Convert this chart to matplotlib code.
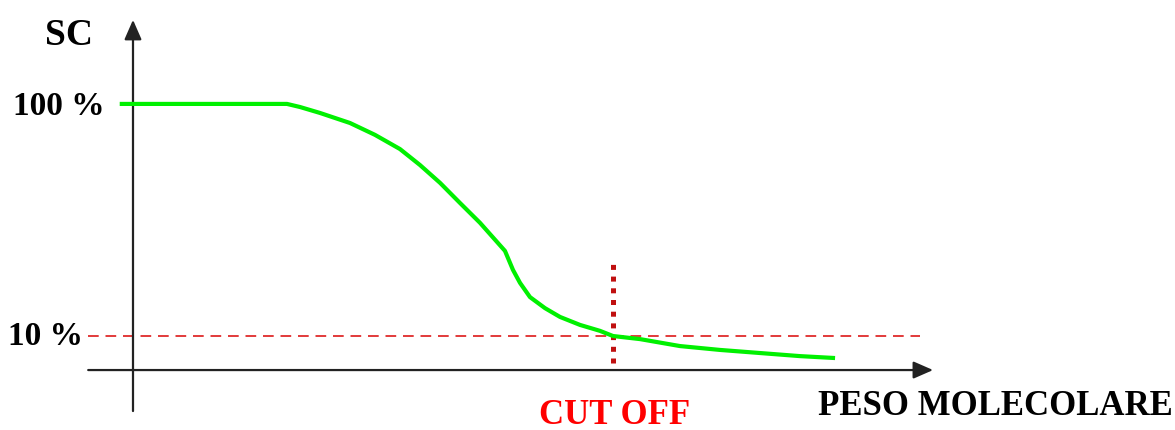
import matplotlib
matplotlib.use('Agg')
import matplotlib.pyplot as plt

# Curve (x: arbitrary molecular weight units, y: SC in %)
mw = [-1.6, 22.0, 23.86, 26.71, 31.0, 34.57, 38.14, 41.0, 43.86, 46.71,
      49.57, 53.14, 54.29, 55.29, 56.71, 58.86, 61.0, 63.86, 66.71, 68.57,
      72.43, 78.14, 83.86, 89.57, 95.29, 100.0]
sc = [100.0, 100.0, 98.8, 96.5, 92.6, 88.0, 82.5, 76.3, 69.4, 61.6,
      53.9, 43.0, 35.6, 30.6, 25.1, 20.8, 17.4, 14.3, 12.0, 10.0,
      8.8, 6.1, 4.6, 3.4, 2.2, 1.5]

cutoff_mw = 68.57
cutoff_sc = 10.0
level_labels = ['100 %', '10 %']
x_label = 'PESO MOLECOLARE'
y_label = 'SC'
cutoff_label = 'CUT OFF'

W, H = 1175, 430
fig = plt.figure(figsize=(W / 100, H / 100), dpi=100)
ax = fig.add_axes([0, 0, 1, 1])
ax.set_xlim(-19.0, 148.86)
ax.set_ylim(-26.45, 140.3)
ax.axis('off')

FONT = 'Liberation Serif'

# axes with arrows
arrow = dict(arrowstyle='-|>,head_length=0.8,head_width=0.35', mutation_scale=15,
             color='#222222', lw=1.6, shrinkA=0, shrinkB=0)
ax.annotate('', xy=(114.3, -3.2), xytext=(-6.4, -3.2), arrowprops=arrow)
ax.annotate('', xy=(0, 132.6), xytext=(0, -19.1), arrowprops=arrow)

# 10 % reference line
ax.plot([-6.4, 112.4], [cutoff_sc, cutoff_sc], color='#e23a3a', lw=1.4,
        linestyle=(0, (5.5, 3.5)))

# cut off marker
ax.plot([cutoff_mw, cutoff_mw], [-0.4, 38.7], color='#c01010', lw=3.6,
        linestyle=(0, (1.0, 1.34)), solid_capstyle='butt', dash_capstyle='butt')

# curve
ax.plot(mw, sc, color='#00f000', lw=3.0, solid_joinstyle='round', zorder=5)


def px(x, y):
    return x / W, 1 - y / H


fig.text(*px(69, 45), y_label, ha='center', va='baseline', fontsize=27,
         fontweight='bold', family=FONT)
fig.text(*px(105, 115), level_labels[0], ha='right', va='baseline', fontsize=24,
         fontweight='bold', family=FONT)
fig.text(*px(83, 345), level_labels[1], ha='right', va='baseline', fontsize=24,
         fontweight='bold', family=FONT)
fig.text(*px(615, 424), cutoff_label, ha='center', va='baseline', fontsize=25,
         fontweight='bold', family=FONT, color='#ff0000')
fig.text(*px(818, 415), x_label, ha='left', va='baseline', fontsize=25,
         fontweight='bold', family=FONT)

fig.savefig('out.png', dpi=100)
